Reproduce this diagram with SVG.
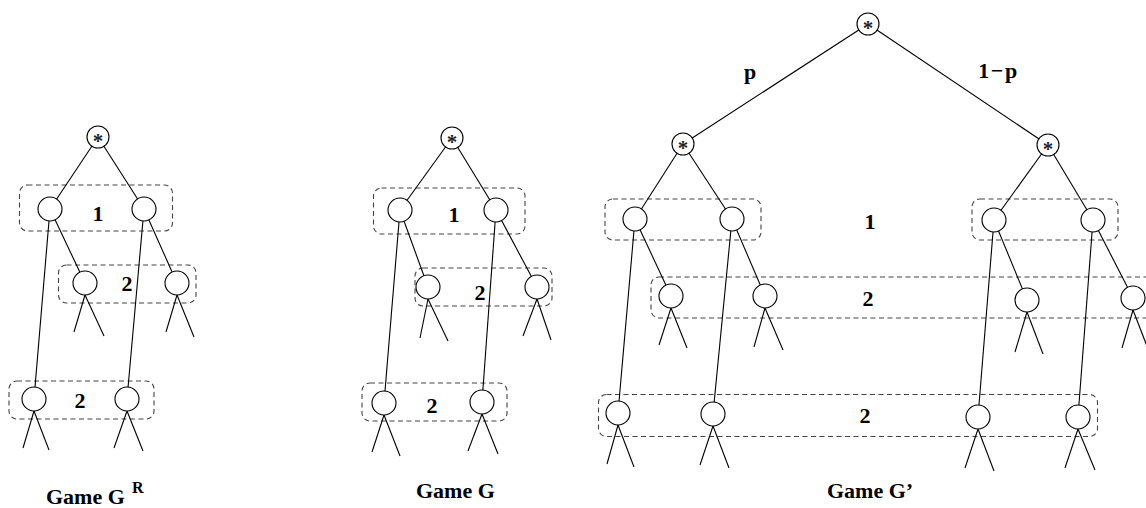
<svg xmlns="http://www.w3.org/2000/svg" width="1146" height="508" viewBox="0 0 1146 508">
  <style>
    .edge { stroke: #000; stroke-width: 1.1; fill: none; }
    .dec { fill: #fff; stroke: #000; stroke-width: 1.1; }
    .chance { fill: #fff; stroke: #000; stroke-width: 1.1; }
    .star { font-family: "Liberation Serif", "Times New Roman", serif; font-weight: bold; font-size: 21px; text-anchor: middle; fill: #222; }
    .iset { fill: none; stroke: #444; stroke-width: 1.1; stroke-dasharray: 5 3.5; }
    .lbl { font-family: "Liberation Serif", "Times New Roman", serif; font-weight: bold; font-size: 22px; text-anchor: middle; fill: #000; }
    .title { font-family: "Liberation Serif", "Times New Roman", serif; font-weight: bold; font-size: 22px; fill: #000; }
    .sup { font-family: "Liberation Serif", "Times New Roman", serif; font-weight: bold; font-size: 16px; fill: #000; }
  </style>

  <!-- information sets (dashed) -->
  <g id="infosets">
    <rect class="iset" x="19.5" y="185" width="153" height="46" rx="8"/>
    <rect class="iset" x="58.5" y="265" width="137.5" height="38" rx="8"/>
    <rect class="iset" x="9" y="381" width="145" height="38" rx="8"/>

    <rect class="iset" x="373.5" y="188" width="151.5" height="46" rx="8"/>
    <rect class="iset" x="415" y="268" width="137" height="38" rx="8"/>
    <rect class="iset" x="362" y="383" width="145" height="38" rx="8"/>

    <rect class="iset" x="605" y="199" width="156" height="41" rx="8"/>
    <rect class="iset" x="972" y="199" width="146" height="41" rx="8"/>
    <rect class="iset" x="651" y="277" width="520" height="41" rx="8"/>
    <rect class="iset" x="598.5" y="394.5" width="499" height="42" rx="8"/>
  </g>

  <!-- edges -->
  <g id="connectors">
    <!-- Game G^R -->
    <line class="edge" x1="98" y1="137" x2="50" y2="209"/>
    <line class="edge" x1="98" y1="137" x2="144" y2="209"/>
    <line class="edge" x1="50" y1="209" x2="85" y2="283"/>
    <line class="edge" x1="50" y1="209" x2="34" y2="399"/>
    <line class="edge" x1="144" y1="209" x2="177" y2="283"/>
    <line class="edge" x1="144" y1="209" x2="127" y2="399"/>
    <line class="edge" x1="85" y1="295" x2="74" y2="332"/>
    <line class="edge" x1="85" y1="295" x2="104" y2="336"/>
    <line class="edge" x1="177" y1="295" x2="166" y2="332"/>
    <line class="edge" x1="177" y1="295" x2="194" y2="337"/>
    <line class="edge" x1="34" y1="411" x2="23" y2="448"/>
    <line class="edge" x1="34" y1="411" x2="49" y2="450"/>
    <line class="edge" x1="127" y1="411" x2="114" y2="448"/>
    <line class="edge" x1="127" y1="411" x2="143" y2="451"/>

    <!-- Game G -->
    <line class="edge" x1="452" y1="138" x2="400" y2="210"/>
    <line class="edge" x1="452" y1="138" x2="496" y2="210"/>
    <line class="edge" x1="400" y1="210" x2="428" y2="287"/>
    <line class="edge" x1="400" y1="210" x2="384" y2="403"/>
    <line class="edge" x1="496" y1="210" x2="537" y2="287"/>
    <line class="edge" x1="496" y1="210" x2="482" y2="402"/>
    <line class="edge" x1="428" y1="299" x2="420" y2="338"/>
    <line class="edge" x1="428" y1="299" x2="448" y2="341"/>
    <line class="edge" x1="537" y1="299" x2="523" y2="336"/>
    <line class="edge" x1="537" y1="299" x2="551" y2="340"/>
    <line class="edge" x1="384" y1="415" x2="372" y2="452"/>
    <line class="edge" x1="384" y1="415" x2="400" y2="456"/>
    <line class="edge" x1="482" y1="414" x2="468" y2="451"/>
    <line class="edge" x1="482" y1="414" x2="498" y2="454"/>

    <!-- Game G' -->
    <line class="edge" x1="868" y1="24" x2="683" y2="144"/>
    <line class="edge" x1="868" y1="24" x2="1048" y2="145"/>
    <line class="edge" x1="683" y1="144" x2="635" y2="219"/>
    <line class="edge" x1="683" y1="144" x2="732" y2="219"/>
    <line class="edge" x1="1048" y1="145" x2="994" y2="220"/>
    <line class="edge" x1="1048" y1="145" x2="1093" y2="220"/>
    <line class="edge" x1="635" y1="219" x2="671" y2="296"/>
    <line class="edge" x1="635" y1="219" x2="618" y2="413"/>
    <line class="edge" x1="732" y1="219" x2="765" y2="296"/>
    <line class="edge" x1="732" y1="219" x2="713" y2="414"/>
    <line class="edge" x1="994" y1="220" x2="1027" y2="300"/>
    <line class="edge" x1="994" y1="220" x2="978" y2="417"/>
    <line class="edge" x1="1093" y1="220" x2="1133" y2="298"/>
    <line class="edge" x1="1093" y1="220" x2="1078" y2="417"/>
    <line class="edge" x1="671" y1="308" x2="659" y2="345"/>
    <line class="edge" x1="671" y1="308" x2="687" y2="348"/>
    <line class="edge" x1="765" y1="308" x2="754" y2="347"/>
    <line class="edge" x1="765" y1="308" x2="783" y2="350"/>
    <line class="edge" x1="1027" y1="312" x2="1015" y2="352"/>
    <line class="edge" x1="1027" y1="312" x2="1043" y2="354"/>
    <line class="edge" x1="1133" y1="310" x2="1122" y2="348"/>
    <line class="edge" x1="1133" y1="310" x2="1150" y2="354"/>
    <line class="edge" x1="618" y1="425" x2="607" y2="464"/>
    <line class="edge" x1="618" y1="425" x2="634" y2="467"/>
    <line class="edge" x1="713" y1="426" x2="700" y2="465"/>
    <line class="edge" x1="713" y1="426" x2="729" y2="468"/>
    <line class="edge" x1="978" y1="429" x2="965" y2="468"/>
    <line class="edge" x1="978" y1="429" x2="994" y2="471"/>
    <line class="edge" x1="1078" y1="429" x2="1065" y2="468"/>
    <line class="edge" x1="1078" y1="429" x2="1095" y2="470"/>
  </g>

  <!-- Game G^R nodes -->
  <g id="gr-root"><circle class="chance" cx="98" cy="137" r="11"/><text class="star" x="98" y="147.5">*</text></g>
  <g id="gr-a1"><circle class="dec" cx="50" cy="209" r="12"/></g>
  <g id="gr-a2"><circle class="dec" cx="144" cy="209" r="12"/></g>
  <g id="gr-b1"><circle class="dec" cx="85" cy="283" r="12"/></g>
  <g id="gr-b2"><circle class="dec" cx="177" cy="283" r="12"/></g>
  <g id="gr-d1"><circle class="dec" cx="34" cy="399" r="12"/></g>
  <g id="gr-d2"><circle class="dec" cx="127" cy="399" r="12"/></g>

  <!-- Game G nodes -->
  <g id="g-root"><circle class="chance" cx="452" cy="138" r="11"/><text class="star" x="452" y="148.5">*</text></g>
  <g id="g-a1"><circle class="dec" cx="400" cy="210" r="12"/></g>
  <g id="g-a2"><circle class="dec" cx="496" cy="210" r="12"/></g>
  <g id="g-b1"><circle class="dec" cx="428" cy="287" r="12"/></g>
  <g id="g-b2"><circle class="dec" cx="537" cy="287" r="12"/></g>
  <g id="g-d1"><circle class="dec" cx="384" cy="403" r="12"/></g>
  <g id="g-d2"><circle class="dec" cx="482" cy="402" r="12"/></g>

  <!-- Game G' nodes -->
  <g id="gp-root"><circle class="chance" cx="868" cy="24" r="11"/><text class="star" x="868" y="34.5">*</text></g>
  <g id="gp-cl"><circle class="chance" cx="683" cy="144" r="11"/><text class="star" x="683" y="154.5">*</text></g>
  <g id="gp-cr"><circle class="chance" cx="1048" cy="145" r="11"/><text class="star" x="1048" y="155.5">*</text></g>
  <g id="gp-a1"><circle class="dec" cx="635" cy="219" r="12"/></g>
  <g id="gp-a2"><circle class="dec" cx="732" cy="219" r="12"/></g>
  <g id="gp-a3"><circle class="dec" cx="994" cy="220" r="12"/></g>
  <g id="gp-a4"><circle class="dec" cx="1093" cy="220" r="12"/></g>
  <g id="gp-b1"><circle class="dec" cx="671" cy="296" r="12"/></g>
  <g id="gp-b2"><circle class="dec" cx="765" cy="296" r="12"/></g>
  <g id="gp-b3"><circle class="dec" cx="1027" cy="300" r="12"/></g>
  <g id="gp-b4"><circle class="dec" cx="1133" cy="298" r="12"/></g>
  <g id="gp-d1"><circle class="dec" cx="618" cy="413" r="12"/></g>
  <g id="gp-d2"><circle class="dec" cx="713" cy="414" r="12"/></g>
  <g id="gp-d3"><circle class="dec" cx="978" cy="417" r="12"/></g>
  <g id="gp-d4"><circle class="dec" cx="1078" cy="417" r="12"/></g>

  <!-- player labels and probabilities -->
  <g id="labels">
    <text class="lbl" x="98" y="221">1</text>
    <text class="lbl" x="127" y="291">2</text>
    <text class="lbl" x="80" y="408">2</text>

    <text class="lbl" x="454" y="222">1</text>
    <text class="lbl" x="480" y="300">2</text>
    <text class="lbl" x="432" y="413">2</text>

    <text class="lbl" x="750" y="79">p</text>
    <text class="lbl" x="998.5" y="78" letter-spacing="1.5">1−p</text>
    <text class="lbl" x="870" y="229">1</text>
    <text class="lbl" x="868" y="306">2</text>
    <text class="lbl" x="865" y="423">2</text>
  </g>

  <!-- captions -->
  <g id="captions">
    <text class="title" x="46" y="504">Game G</text>
    <text class="sup" x="132" y="493">R</text>
    <text class="title" x="416" y="498">Game G</text>
    <text class="title" x="827" y="498">Game G’</text>
  </g>
</svg>
